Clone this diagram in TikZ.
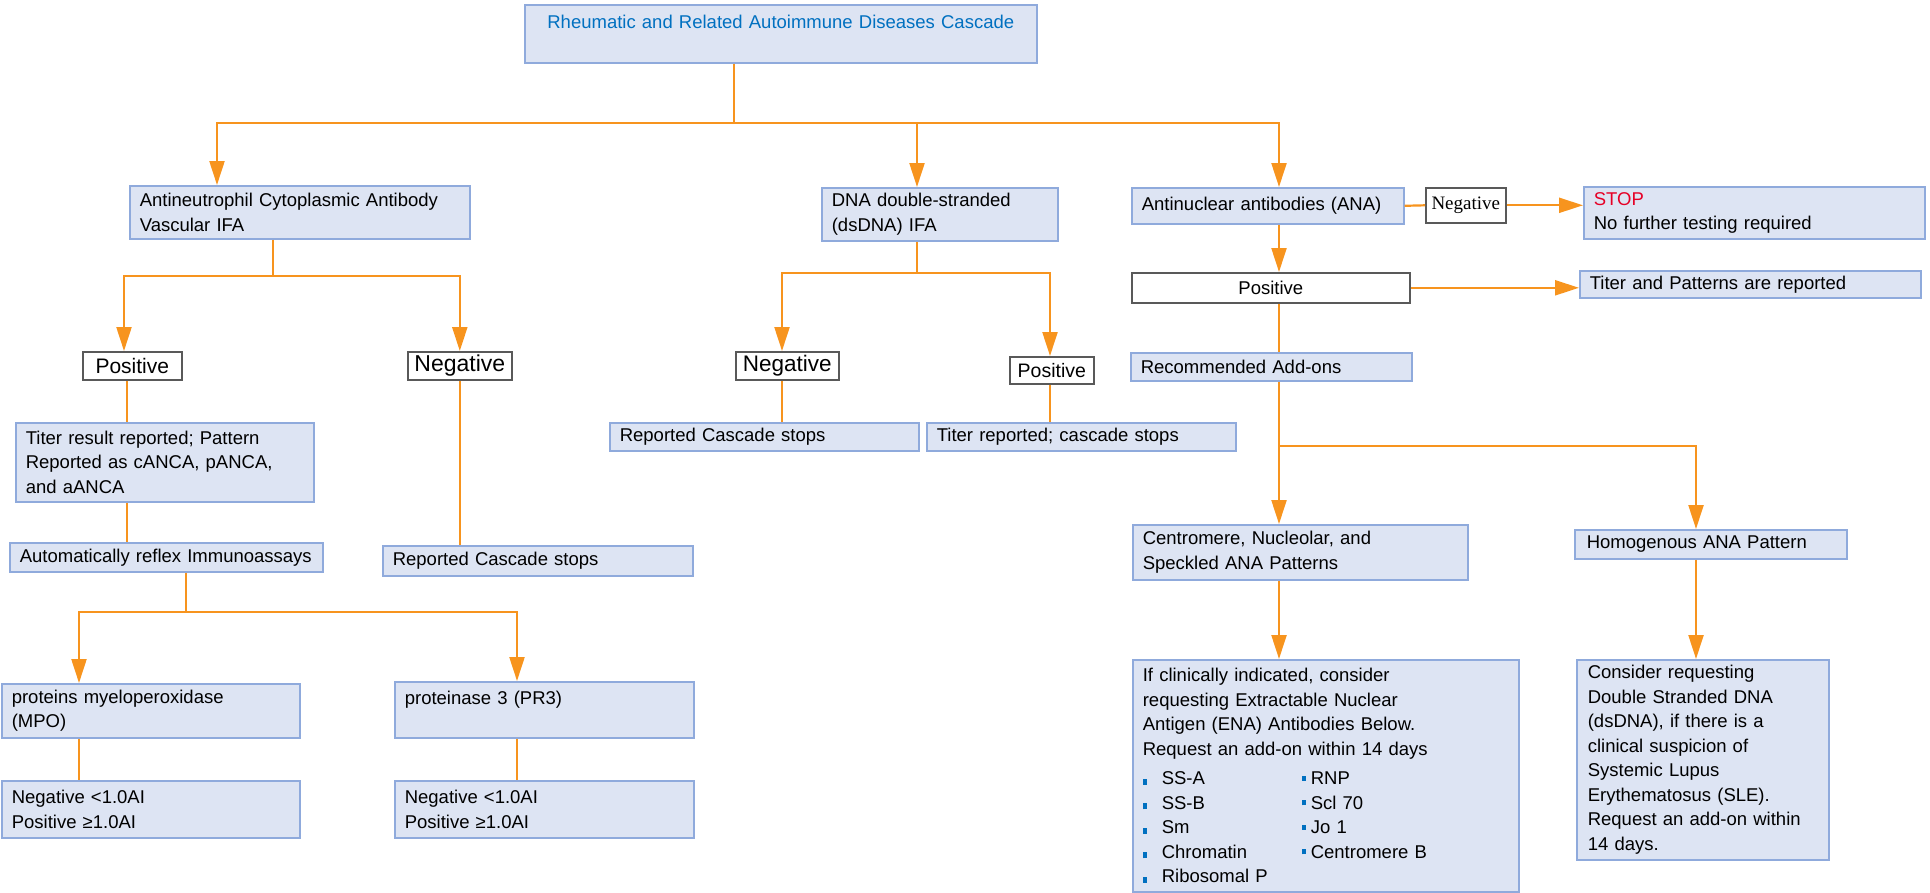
\documentclass[tikz,border=0pt]{standalone}
\usepackage{fontspec}
\setmainfont{Liberation Sans}
\newfontfamily\serifneg{Liberation Serif}
\usetikzlibrary{arrows.meta}
\definecolor{orng}{RGB}{247,148,30}
\definecolor{boxfill}{RGB}{221,228,243}
\definecolor{boxline}{RGB}{143,170,220}
\definecolor{grayline}{RGB}{89,89,89}
\definecolor{titleblue}{RGB}{0,112,192}
\definecolor{stopred}{RGB}{230,0,38}
\newcommand\lbul[1]{\makebox[159pt][l]{\textcolor{titleblue}{\rule{4pt}{6pt}}\hspace{15pt}#1}}
\newcommand\rbul[1]{\textcolor{titleblue}{\raisebox{4pt}{\rule{4pt}{5pt}}}\hspace{5pt}#1}
\begin{document}
\begin{tikzpicture}[x=1pt,y=-1pt,
  every node/.style={font=\fontsize{18.5}{24.5}\selectfont},
  bluebox/.style={draw=boxline, fill=boxfill, line width=1.6pt, anchor=north west, inner xsep=10pt, inner ysep=0pt, align=left},
  whitebox/.style={draw=grayline, fill=white, line width=1.6pt, anchor=north west, inner sep=0pt, align=center},
  ln/.style={draw=orng, line width=2.2pt},
  arr/.style={ln, -{Triangle[width=15pt,length=24pt]}}]
\useasboundingbox (0,0) rectangle (1930,892);

% top
\node[bluebox, text width=492pt, minimum height=58pt, align=center, text=titleblue] (top) at (524,4) {Rheumatic and Related Autoimmune Diseases Cascade\\~};

% ANCA branch
\node[bluebox, text width=320pt, minimum height=53pt] (anca) at (129,185) {Antineutrophil Cytoplasmic Antibody\\Vascular IFA};
\node[whitebox, minimum width=99pt, minimum height=28pt, font={\fontsize{21}{24}\selectfont}] (ancapos) at (82,351) {Positive};
\node[whitebox, minimum width=104pt, minimum height=28pt, font={\fontsize{23}{26}\selectfont}] (ancaneg) at (407,351) {Negative};
\node[bluebox, text width=278pt, minimum height=79pt] (titer1) at (15,422) {Titer result reported; Pattern\\Reported as cANCA, pANCA,\\and aANCA};
\node[bluebox, text width=293pt, minimum height=29pt] (reflex) at (9,542) {\mbox{Automatically reflex Immunoassays}};
\node[bluebox, text width=290pt, minimum height=30pt] (ancastop) at (382,545) {Reported Cascade stops};
\node[bluebox, text width=278pt, minimum height=54pt] (mpo) at (1,683) {proteins myeloperoxidase\\(MPO)};
\node[bluebox, text width=279pt, minimum height=56pt] (pr3) at (394,681) {proteinase 3 (PR3)\\~};
\node[bluebox, text width=278pt, minimum height=57pt] (mpores) at (1,780) {Negative <1.0AI\\Positive ≥1.0AI};
\node[bluebox, text width=279pt, minimum height=57pt] (pr3res) at (394,780) {Negative <1.0AI\\Positive ≥1.0AI};

% dsDNA branch
\node[bluebox, text width=216pt, minimum height=53pt] (dsdna) at (821,187) {DNA double-stranded\\(dsDNA) IFA};
\node[whitebox, minimum width=103pt, minimum height=28pt, font={\fontsize{22.5}{26}\selectfont}] (dsneg) at (735,351) {Negative};
\node[whitebox, minimum width=84pt, minimum height=27pt, font={\fontsize{19.5}{24}\selectfont}] (dspos) at (1009,356) {Positive};
\node[bluebox, text width=289pt, minimum height=28pt] (dsstop) at (609,422) {Reported Cascade stops};
\node[bluebox, text width=289pt, minimum height=28pt] (dstiter) at (926,422) {Titer reported; cascade stops};

% ANA branch
\node[bluebox, text width=252pt, minimum height=36pt] (ana) at (1131,187) {Antinuclear antibodies (ANA)};
\node[whitebox, minimum width=80pt, minimum height=35pt, font={\serifneg\fontsize{19}{22}\selectfont}] (ananeg) at (1425,187) {Negative};
\node[bluebox, text width=321pt, minimum height=52pt] (stop) at (1583,186) {\textcolor{stopred}{STOP}\\No further testing required};
\node[whitebox, minimum width=278pt, minimum height=30pt] (anapos) at (1131,272) {Positive};
\node[bluebox, text width=321pt, minimum height=27pt] (anatiter) at (1579,270) {Titer and Patterns are reported};
\node[bluebox, text width=261pt, minimum height=28pt] (addons) at (1130,352) {Recommended Add-ons};
\node[bluebox, text width=315pt, minimum height=55pt] (centro) at (1132,524) {Centromere, Nucleolar, and\\Speckled ANA Patterns};
\node[bluebox, text width=248pt, inner xsep=12pt, minimum height=29pt] (homog) at (1574,529) {Homogenous ANA Pattern};
\node[bluebox, text width=366pt, minimum height=232pt] (ena) at (1132,659) {If clinically indicated, consider\\requesting Extractable Nuclear\\Antigen (ENA) Antibodies Below.\\Request an add-on within 14 days\\[5pt]\lbul{SS-A}\rbul{RNP}\\\lbul{SS-B}\rbul{Scl 70}\\\lbul{Sm}\rbul{Jo 1}\\\lbul{Chromatin}\rbul{Centromere B}\\\lbul{Ribosomal P}};
\node[bluebox, text width=230pt, inner xsep=11pt, minimum height=200pt] (consider) at (1576,659) {Consider requesting\\Double Stranded DNA\\(dsDNA), if there is a\\clinical suspicion of\\Systemic Lupus\\Erythematosus (SLE).\\Request an add-on within\\14 days.};

% junctions and x-positions
\coordinate (j0) at (734,123);
\coordinate (xa) at (217,0);
\coordinate (xd) at (917,0);
\coordinate (xn) at (1279,0);
\coordinate (j1) at (273,276);
\coordinate (xap) at (124,0);
\coordinate (xl) at (127,0);
\coordinate (j2) at (186,612);
\coordinate (xm) at (79,0);
\coordinate (xp) at (517,0);
\coordinate (j3) at (917,273);
\coordinate (xdn) at (782,0);
\coordinate (xdp) at (1050,0);
\coordinate (j4) at (1279,446);
\coordinate (xh) at (1696,0);

% top connectors
\draw[ln] (top.south -| j0) -- (j0);
\draw[arr] (j0) -| (xa |- anca.north);
\draw[arr] (j0) -| (xn |- ana.north);
\draw[arr] (xd |- j0) -- (xd |- dsdna.north);

% ANCA connectors
\draw[ln] (anca.south -| j1) -- (j1);
\draw[arr] (j1) -| (xap |- ancapos.north);
\draw[arr] (j1) -| (ancaneg.north);
\draw[ln] (xl |- ancapos.south) -- (xl |- titer1.north);
\draw[ln] (xl |- titer1.south) -- (xl |- reflex.north);
\draw[ln] (ancaneg.south) -- (ancaneg.south |- ancastop.north);
\draw[ln] (reflex.south -| j2) -- (j2);
\draw[arr] (j2) -| (xm |- mpo.north);
\draw[arr] (j2) -| (xp |- pr3.north);
\draw[ln] (xm |- mpo.south) -- (xm |- mpores.north);
\draw[ln] (xp |- pr3.south) -- (xp |- pr3res.north);

% dsDNA connectors
\draw[ln] (dsdna.south -| j3) -- (j3);
\draw[arr] (j3) -| (xdn |- dsneg.north);
\draw[arr] (j3) -| (xdp |- dspos.north);
\draw[ln] (xdn |- dsneg.south) -- (xdn |- dsstop.north);
\draw[ln] (xdp |- dspos.south) -- (xdp |- dstiter.north);

% ANA connectors
\draw[ln] (ana.east) -- (ananeg.west);
\draw[arr] (ananeg.east) -- (ananeg.east -| stop.west);
\draw[arr] (xn |- ana.south) -- (xn |- anapos.north);
\draw[arr] (anapos.east) -- (anapos.east -| anatiter.west);
\draw[ln] (xn |- anapos.south) -- (xn |- addons.north);
\draw[arr] (xn |- addons.south) -- (xn |- centro.north);
\draw[arr] (j4) -| (xh |- homog.north);
\draw[arr] (xn |- centro.south) -- (xn |- ena.north);
\draw[arr] (xh |- homog.south) -- (xh |- consider.north);
\end{tikzpicture}
\end{document}
